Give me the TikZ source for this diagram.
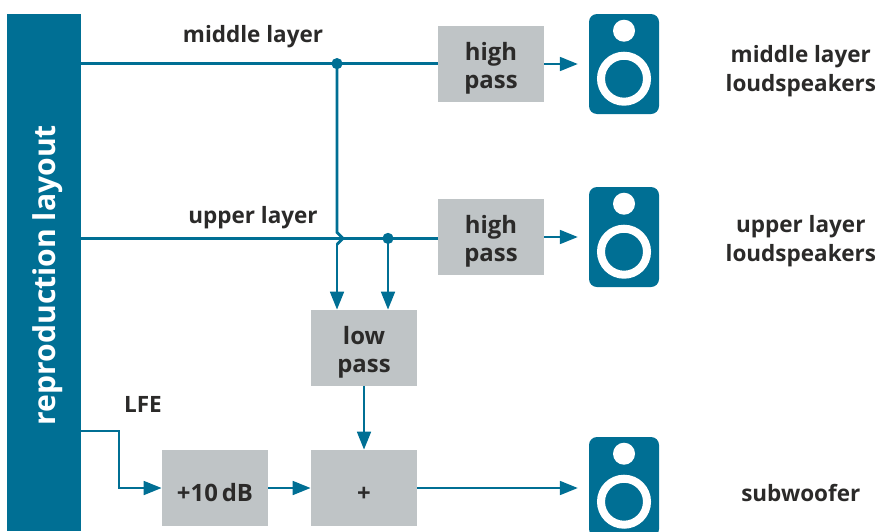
\documentclass[tikz,border=0pt]{standalone}
\usepackage{fontspec}
\setmainfont{Open Sans}
\usetikzlibrary{arrows.meta, calc, positioning}
\definecolor{teal1}{HTML}{006F94}
\definecolor{grey1}{HTML}{BFC4C6}
\definecolor{ink1}{HTML}{2B2A29}
\newcommand{\blockgap}{\rule{0pt}{19pt}}
\tikzset{
    block/.style={fill=grey1, minimum width=2.65cm, minimum height=1.9cm, inner sep=0pt, align=center,
        text=ink1, font=\fontsize{17}{20.5}\selectfont\bfseries},
    label/.style={text=ink1, align=center, inner sep=0pt, font=\fontsize{16}{20.5}\selectfont\bfseries},
    sig/.style={draw=teal1, line width=.07cm},
    arr/.style={sig, -{Triangle[length=.45cm, width=.34cm]}},
    dot/.style={circle, fill=teal1, minimum size=.28cm, inner sep=0pt},
    box/.style={fill=teal1, rounded corners=.2cm, minimum width=1.75cm, minimum height=2.5cm, inner sep=0pt},
}
\begin{document}
\begin{tikzpicture}
    \useasboundingbox (0,0) rectangle (21.95,-13.275);
    \clip (0,0) rectangle (21.95,-13.275);
    % bar on the left
    \node[fill=teal1, minimum width=1.85cm, minimum height=12.925cm, inner sep=0pt] (bar) at (1.1,-6.8125) {};
    \node[rotate=90, text=white, inner sep=0pt, font=\fontsize{21.4}{24}\selectfont\bfseries] (layout) at (1.2,-6.88) {reproduction layout};
    % filters
    \node[block] (high1) at (12.275,-1.6) {\blockgap high\\pass};
    \node[block] (high2) at (12.275,-5.925) {\blockgap high\\pass};
    \node[block] (low) at (9.1,-8.7) {\blockgap low\\pass};
    \node[block] (gain) at (5.375,-12.2) {\blockgap +10\,dB};
    \node[block] (sum) at (9.1,-12.2) {\blockgap +};
    % loudspeakers
    \foreach \name/\y in {spk1/-1.6, spk2/-5.925, spk3/-12.175} {
        \node[box] (\name) at (15.6,\y) {};
        \fill[white] ($(\name.north)+(0,-.425)$) circle (.275);
        \draw[white, line width=.2cm] ($(\name.north)+(0,-1.625)$) circle (.575);
    }
    % signal paths
    \coordinate (mid) at (2.025,-1.59);
    \coordinate (up) at (2.025,-5.96);
    \coordinate (lfe) at (2.025,-10.775);
    \coordinate (hopa) at (8.425,-5.81);
    \coordinate (hopb) at (8.425,-6.11);
    \node[dot] (dot1) at (8.425,-1.59) {};
    \node[dot] (dot2) at (9.7,-5.96) {};
    \draw[sig] (mid) -- (high1.west |- mid);
    \draw[sig] (up) -- (high2.west |- up);
    \draw[arr] (high1) -- ($(spk1.west)+(-.27,0)$);
    \draw[arr] (high2) -- ($(spk2.west)+(-.27,0)$);
    \draw[sig] (dot1.center) -- (hopa) -- ++(.15,-.15) -- (hopb);
    \draw[arr] (hopb) -- (hopb |- low.north);
    \draw[arr] (dot2.center) -- (dot2.center |- low.north);
    \draw[arr] (low) -- (sum);
    \draw[arr] (lfe) -| (2.975,-12.2) -- (gain.west);
    \draw[arr] (gain) -- (sum);
    \draw[arr] (sum) -- ($(sum -| spk3.west)+(-.27,0)$);
    % labels
    \node[label] (lmid) at (6.325,-.925) {middle layer};
    \node[label] (lup) at (6.325,-5.45) {upper layer};
    \node[label] (llfe) at (3.575,-10.1) {LFE};
    \node[label] (tmid) at (20.02,-1.77) {middle layer\\loudspeakers};
    \node[label] (tup) at (20.02,-6.02) {upper layer\\loudspeakers};
    \node[label] (tsub) at (20.02,-12.33) {subwoofer};
\end{tikzpicture}
\end{document}
